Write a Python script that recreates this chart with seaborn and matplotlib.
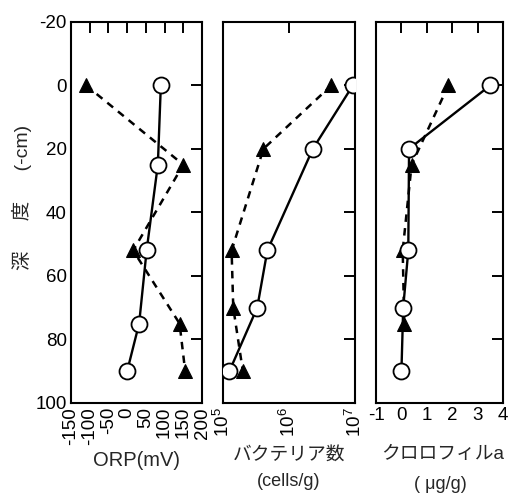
import numpy as np
import pandas as pd
import matplotlib
matplotlib.use("Agg")
import matplotlib.pyplot as plt
import seaborn as sns

# ORP (mV)
orp_depth_o = [0, 25, 52, 75, 90]
orp_o = [90, 82, 52, 32, 0]
orp_depth_t = [0, 25, 52, 75, 90]
orp_t = [-110, 150, 16, 140, 155]

# bacteria (cells/g)
bac_depth_o = [0, 20, 52, 70, 90]
bac_o = [9.3e6, 2.3e6, 4.7e5, 3.3e5, 1.25e5]
bac_depth_t = [0, 20, 52, 70, 90]
bac_t = [4.4e6, 4.1e5, 1.35e5, 1.43e5, 2.0e5]

# chlorophyll a (ug/g)
chl_depth_o = [0, 20, 52, 70, 90]
chl_o = [3.5, 0.3, 0.27, 0.07, 0.0]
chl_depth_t = [0, 25, 52, 75]
chl_t = [1.85, 0.4, 0.05, 0.11]

depth_ticks = [-20, 0, 20, 40, 60, 80, 100]
orp_ticks = [-150, -100, -50, 0, 50, 100, 150, 200]
bac_ticks = [1e5, 1e6, 1e7]
chl_ticks = [-1, 0, 1, 2, 3, 4]

sns.set_style("white")
plt.rcParams['font.family'] = ['Liberation Sans', 'Noto Sans CJK JP', 'DejaVu Sans']
plt.rcParams['mathtext.default'] = 'regular'
plt.rcParams['axes.unicode_minus'] = False
plt.rcParams['font.size'] = 13

fig = plt.figure(figsize=(5.13, 4.95), dpi=100)
bottom, height = 0.186, 0.770
ax1 = fig.add_axes([0.1384, bottom, 0.2554, height])
ax2 = fig.add_axes([0.4347, bottom, 0.2573, height])
ax3 = fig.add_axes([0.7330, bottom, 0.2476, height])

panels = [
    (ax1, orp_o, orp_depth_o, orp_t, orp_depth_t),
    (ax2, bac_o, bac_depth_o, bac_t, bac_depth_t),
    (ax3, chl_o, chl_depth_o, chl_t, chl_depth_t),
]
for ax, xo, yo, xt, yt in panels:
    sns.lineplot(x=xt, y=yt, sort=False, estimator=None, ax=ax,
                 color='black', linestyle=(0, (3, 2.5)), linewidth=1.8,
                 marker='^', markersize=10.5, markerfacecolor='black',
                 markeredgecolor='black', zorder=2)
    sns.lineplot(x=xo, y=yo, sort=False, estimator=None, ax=ax,
                 color='black', linewidth=1.7,
                 marker='o', markersize=11.5, markerfacecolor='white',
                 markeredgecolor='black', markeredgewidth=1.3, zorder=3)
    ax.set_ylim(100, -20)
    ax.set_yticks(depth_ticks)
    ax.tick_params(direction='in', top=True, right=True, length=8,
                   width=1.4, colors='black', labelsize=13.5, pad=3)
    ax.tick_params(which='minor', length=0)
    for s in ax.spines.values():
        s.set_visible(True)
        s.set_color('black')
        s.set_linewidth(1.5)
    ax.set_xlabel('')
    ax.set_ylabel('')

ax1.set_xlim(-150, 200)
ax1.set_xticks(orp_ticks)
ax1.set_xticklabels([str(v) for v in orp_ticks], rotation=90)

ax2.set_xscale('log')
ax2.set_xlim(1e5, 1e7)
ax2.set_xticks(bac_ticks)
ax2.set_xticklabels(['$10^5$', '$10^6$', '$10^7$'], rotation=90)
ax2.xaxis.set_minor_locator(matplotlib.ticker.NullLocator())
ax2.set_yticklabels([])

ax3.set_xlim(-1, 4)
ax3.set_xticks(chl_ticks)
ax3.set_xticklabels([str(v) for v in chl_ticks])
ax3.set_yticklabels([])

ax1.set_ylabel('深　  度　  (-cm)', fontsize=14)
ax1.yaxis.set_label_coords(-0.30, 0.54)

fig.text(0.267, 0.070, 'ORP(mV)', ha='center', va='center', fontsize=14.5)
fig.text(0.563, 0.081, 'バクテリア数', ha='center', va='center', fontsize=13.5)
fig.text(0.563, 0.028, '(cells/g)', ha='center', va='center', fontsize=13)
fig.text(0.862, 0.081, 'クロロフィルa', ha='center', va='center', fontsize=13.5)
fig.text(0.858, 0.022, '( μg/g)', ha='center', va='center', fontsize=13)

fig.savefig('out.png', dpi=100)
